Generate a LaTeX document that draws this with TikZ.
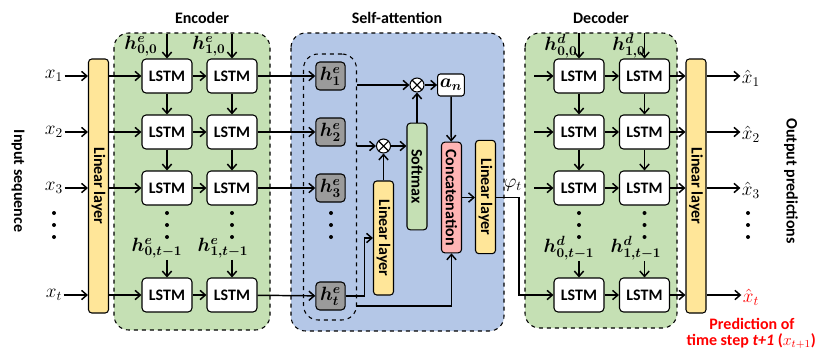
\documentclass[tikz,border=0pt]{standalone}
\usepackage{fontspec}
\setmainfont{Carlito}
\usepackage{bm}
\usetikzlibrary{arrows.meta}

\definecolor{encgreen}{RGB}{197,224,180}
\definecolor{attblue}{RGB}{180,199,231}
\definecolor{linyellow}{RGB}{255,230,153}
\definecolor{catpink}{RGB}{255,180,180}
\definecolor{hgray}{RGB}{155,155,155}

\newcommand{\dotcol}[1]{\fill (#1,213) circle (1.5pt) (#1,225) circle (1.5pt) (#1,237) circle (1.5pt);}

\begin{document}
\begin{tikzpicture}[x=0.75pt, y=-0.75pt, font=\fontsize{12}{14}\selectfont\bfseries,
  lstm/.style={draw, fill=white, rounded corners=3pt, line width=0.8pt, minimum width=37.5pt, minimum height=25.5pt, inner sep=0pt},
  hbox/.style={draw, fill=hgray, rounded corners=3pt, line width=0.8pt, minimum width=22pt, minimum height=21pt, inner sep=0pt, font=\fontsize{14}{16}\selectfont},
  bar/.style={draw, rounded corners=2.5pt, line width=0.8pt, minimum width=15pt, inner sep=0pt},
  group/.style={draw, dashed, rounded corners=11pt, line width=0.8pt},
  arr/.style={-{Straight Barb[length=4pt,width=7pt]}, line width=1.1pt},
  lnk/.style={line width=1.1pt},
  mlab/.style={font=\fontsize{14}{16}\selectfont, inner sep=1pt},
  mult/.style={draw, circle, fill=white, line width=0.8pt, minimum size=10.5pt, inner sep=0pt,
    path picture={\draw[line width=0.8pt] (path picture bounding box.north west) -- (path picture bounding box.south east)
      (path picture bounding box.north east) -- (path picture bounding box.south west);}}]
\useasboundingbox (0,0) rectangle (819,351);

% group boxes
\draw[group, fill=encgreen] (114,33) rectangle (270,330);
\draw[group, fill=attblue] (291,33) rectangle (504,331);
\draw[group, fill=encgreen] (525,33) rectangle (677,328);
\node[group, minimum width=39.75pt, minimum height=199.5pt] (hgrp) at (330,187) {};

\node (tenc) at (202,18) {Encoder};
\node (tatt) at (397,18) {Self-attention};
\node (tdec) at (601,18) {Decoder};

\node (insq) at (18,181) {\rotatebox{-90}{Input sequence}};
\node (outp) at (791,181) {\rotatebox{-90}{Output predictions}};

% inputs
\node[mlab] (x1) at (54,76)  {$x_1$};
\node[mlab] (x2) at (54,132) {$x_2$};
\node[mlab] (x3) at (54,188) {$x_3$};
\node[mlab] (x4) at (54,295) {$x_t$};
\dotcol{54}

\node[bar, fill=linyellow, minimum height=190.5pt] (linL) at (98.5,186) {\rotatebox{-90}{Linear layer}};

% encoder
\node[lstm] (enc11) at (167,76)  {LSTM};
\node[lstm] (enc12) at (232,76)  {LSTM};
\node[lstm] (enc21) at (167,132) {LSTM};
\node[lstm] (enc22) at (232,132) {LSTM};
\node[lstm] (enc31) at (167,188) {LSTM};
\node[lstm] (enc32) at (232,188) {LSTM};
\node[lstm] (enc41) at (167,295) {LSTM};
\node[lstm] (enc42) at (232,295) {LSTM};

\node[mlab] (he00) at (141,46) {$\bm{h^{e}_{0,0}}$};
\node[mlab] (he10) at (209,46) {$\bm{h^{e}_{1,0}}$};
\node[mlab] (he0t) at (157,248) {$\bm{h^{e}_{0,t-1}}$};
\node[mlab] (he1t) at (223,248) {$\bm{h^{e}_{1,t-1}}$};
\dotcol{167}
\dotcol{232}

% attention
\node[hbox] (h1) at (330.5,76)  {$\bm{h^{e}_{1}}$};
\node[hbox] (h2) at (330.5,132) {$\bm{h^{e}_{2}}$};
\node[hbox] (h3) at (330.5,188) {$\bm{h^{e}_{3}}$};
\node[hbox] (h4) at (330.5,296) {$\bm{h^{e}_{t}}$};
\dotcol{331}

\node[mult] (m1) at (417,85) {};
\node[mult] (m2) at (383.5,146) {};
\node[draw, fill=white, rounded corners=2pt, line width=0.8pt, minimum width=20pt, minimum height=16.5pt, inner sep=0pt, font=\fontsize{14}{16}\selectfont] (an) at (451,85) {$\bm{a_n}$};
\node[bar, fill=encgreen, minimum height=80pt] (soft) at (417,176.5) {\rotatebox{-90}{Softmax}};
\node[bar, fill=catpink, minimum height=83pt] (cat) at (451.5,197.5) {\rotatebox{-90}{Concatenation}};
\node[bar, fill=linyellow, minimum height=85pt] (linA) at (485.5,197) {\rotatebox{-90}{Linear layer}};
\node[bar, fill=linyellow, minimum height=85.5pt] (linB) at (383.5,238) {\rotatebox{-90}{Linear layer}};
\coordinate (tap) at (356,306);

% decoder
\node[lstm] (dec11) at (579,76)  {LSTM};
\node[lstm] (dec12) at (644.5,76)  {LSTM};
\node[lstm] (dec21) at (579,132) {LSTM};
\node[lstm] (dec22) at (644.5,132) {LSTM};
\node[lstm] (dec31) at (579,188) {LSTM};
\node[lstm] (dec32) at (644.5,188) {LSTM};
\node[lstm] (dec41) at (579,295) {LSTM};
\node[lstm] (dec42) at (644.5,295) {LSTM};

\node[mlab] (hd00) at (561,46) {$\bm{h^{d}_{0,0}}$};
\node[mlab] (hd10) at (629,46) {$\bm{h^{d}_{1,0}}$};
\node[mlab] (hd0t) at (569,248) {$\bm{h^{d}_{0,t-1}}$};
\node[mlab] (hd1t) at (636,248) {$\bm{h^{d}_{1,t-1}}$};
\dotcol{579}
\dotcol{644.5}
\coordinate (d1in) at (534,76);
\coordinate (d2in) at (534,132);
\coordinate (d3in) at (534,188);

\node[bar, fill=linyellow, minimum height=190.5pt] (linR) at (696,186) {\rotatebox{-90}{Linear layer}};

\node[mlab] (y1) at (751,78)  {$\hat{x}_1$};
\node[mlab] (y2) at (751,134) {$\hat{x}_2$};
\node[mlab] (y3) at (751,190) {$\hat{x}_3$};
\node[mlab, text=red] (y4) at (751,297) {$\hat{x}_t$};
\dotcol{748}

\node[text=red] (pr1) at (752,324) {Prediction of};
\node[text=red, anchor=west] (pr2) at (682,341) {time step \textit{t+1} ($x_{t+1}$)};

% links
\draw[arr] (x1) -- (x1 -| linL.west);
\draw[arr] (x2) -- (x2 -| linL.west);
\draw[arr] (x3) -- (x3 -| linL.west);
\draw[arr] (x4) -- (x4 -| linL.west);

\draw[arr] (linL.east |- enc11) -- (enc11);
\draw[arr] (linL.east |- enc21) -- (enc21);
\draw[arr] (linL.east |- enc31) -- (enc31);
\draw[arr] (linL.east |- enc41) -- (enc41);
\draw[arr] (enc11) -- (enc12);
\draw[arr] (enc21) -- (enc22);
\draw[arr] (enc31) -- (enc32);
\draw[arr] (enc41) -- (enc42);
\draw[arr] (enc11) -- (enc21);
\draw[arr] (enc21) -- (enc31);
\draw[arr] (enc12) -- (enc22);
\draw[arr] (enc22) -- (enc32);
\draw[arr] (he00.north -| enc11) -- (enc11);
\draw[arr] (he10.north -| enc12) -- (enc12);
\draw[arr] (he0t.south -| enc41) -- (enc41);
\draw[arr] (he1t.south -| enc42) -- (enc42);

\draw[arr] (enc12) -- (h1);
\draw[arr] (enc22) -- (h2);
\draw[arr] (enc32) -- (h3);
\draw[arr] (enc42) -- (h4);

\draw[arr] (hgrp.east |- m1) -- (m1);
\draw[arr] (hgrp.east |- m2) -- (m2);
\draw[arr] (m1) -- (an);
\draw[arr] (m2) -- (m2 -| soft.west);
\draw[arr] (soft) -- (m1);
\draw[arr] (linB) -- (m2);
\draw[arr] (an) -- (cat);
\draw[arr] (h4.east) -- ++(19,0) |- (linB);
\draw[arr] (tap) -| (cat);
\draw[arr] (cat) -- (cat -| linA.west);
\draw[arr] (linA.east |- cat) -- ++(23,0) |- (dec41);
\node[mlab] (phi) at (513,185) {$\varphi_t$};

\draw[arr] (d1in) -- (dec11);
\draw[arr] (d2in) -- (dec21);
\draw[arr] (d3in) -- (dec31);
\draw[arr] (dec11) -- (dec12);
\draw[arr] (dec21) -- (dec22);
\draw[arr] (dec31) -- (dec32);
\draw[arr] (dec41) -- (dec42);
\draw[arr] (dec11) -- (dec21);
\draw[arr] (dec21) -- (dec31);
\draw[arr] (dec12) -- (dec22);
\draw[arr] (dec22) -- (dec32);
\draw[arr] (hd00.north -| dec11) -- (dec11);
\draw[arr] (hd10.north -| dec12) -- (dec12);
\draw[arr] (hd0t.south -| dec41) -- (dec41);
\draw[arr] (hd1t.south -| dec42) -- (dec42);

\draw[arr] (dec12) -- (dec12 -| linR.west);
\draw[arr] (dec22) -- (dec22 -| linR.west);
\draw[arr] (dec32) -- (dec32 -| linR.west);
\draw[arr] (dec42) -- (dec42 -| linR.west);

\draw[arr] (linR.east |- dec12) -- (y1.west |- dec12);
\draw[arr] (linR.east |- dec22) -- (y2.west |- dec22);
\draw[arr] (linR.east |- dec32) -- (y3.west |- dec32);
\draw[arr] (linR.east |- dec42) -- (y4.west |- dec42);
\end{tikzpicture}
\end{document}
